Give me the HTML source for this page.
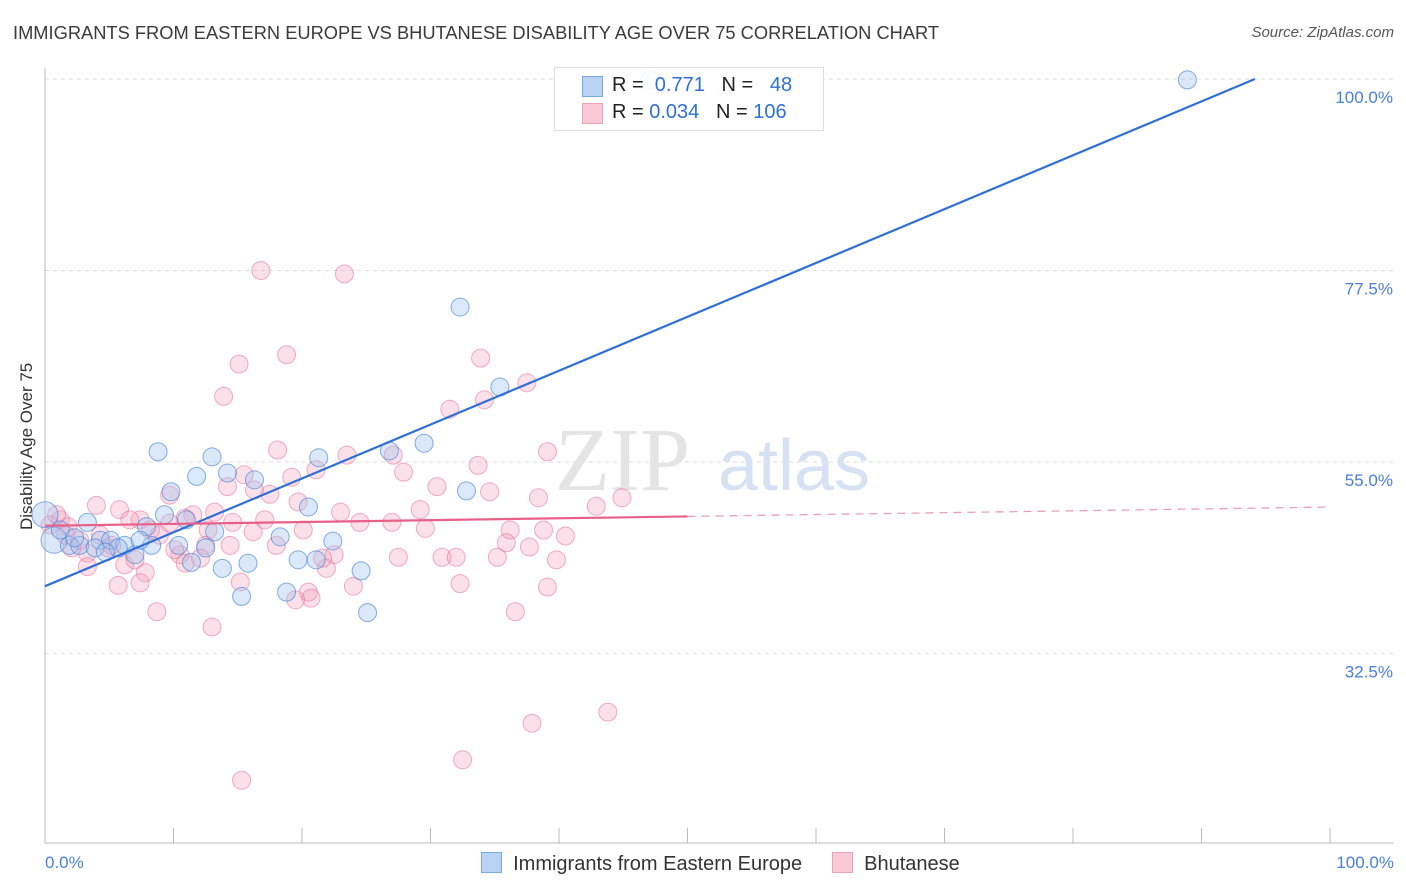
<!DOCTYPE html>
<html><head><meta charset="utf-8">
<style>
body{margin:0;background:#fff;font-family:"Liberation Sans",sans-serif;}
#wrap{position:relative;width:1406px;height:892px;overflow:hidden;}
.t{position:absolute;white-space:nowrap;}
</style></head>
<body>
<div id="wrap">
<div class="t" style="left:13px;top:22px;font-size:18.3px;color:#3a3a3a;">IMMIGRANTS FROM EASTERN EUROPE VS BHUTANESE DISABILITY AGE OVER 75 CORRELATION CHART</div>
<div class="t" style="right:12px;top:24px;font-size:15px;color:#555;font-style:italic;">Source: ZipAtlas.com</div>
<svg id="svg" width="1406" height="892" style="position:absolute;left:0;top:0"></svg>
</div>
<script>
const blueX=[88.9,47.1,32.3,35.4,29.5,8.8,13.0,21.3,26.8,14.2,16.3,11.8,9.8,32.8,20.5,9.3,11.0,3.3,7.9,13.2,0.7,1.9,2.7,4.3,5.1,6.2,7.0,8.3,10.4,12.5,11.4,15.8,18.3,22.4,19.7,21.1,13.8,24.6,15.3,18.8,25.1,0,1.2,5.7,7.4,3.9,2.3,4.7];
const blueY=[99.9,99.9,73.2,63.8,57.2,56.2,55.6,55.5,56.3,53.7,52.9,53.3,51.5,51.6,49.7,48.8,48.2,47.9,47.4,46.8,45.8,45.2,45.2,45.8,45.8,45.2,44.1,45.2,45.2,44.9,43.2,43.1,46.2,45.7,43.5,43.5,42.5,42.2,39.2,39.7,37.3,48.8,47.0,44.9,45.8,44.9,46.1,44.4];
const pinkX=[16.8,23.3,18.8,15.1,33.9,13.9,37.5,34.2,31.5,18.1,23.5,27.1,39.1,33.7,27.9,15.5,21.1,19.2,14.2,30.5,34.6,17.5,16.3,44.9,38.4,42.9,4.0,5.8,9.7,19.7,23.0,29.2,13.2,11.5,10.9,7.4,6.6,24.5,27.0,14.6,16.2,20.1,29.6,36.2,38.8,40.5,12.7,1.2,0.4,1.8,4.3,4.9,3.3,8.9,10.5,12.5,18.0,22.5,27.5,30.9,32.0,35.2,35.9,37.7,39.8,3.3,6.2,7.8,5.7,7.4,15.2,32.3,24.0,39.1,20.5,20.7,19.5,8.7,13.0,36.6,21.9,21.6,10.1,10.9,12.1,2.1,2.7,0.9,1.6,37.9,43.8,32.5,15.3,8.2,14.4,17.1,5.2,9.7,7.0];
const pinkY=[77.5,77.1,67.6,66.5,67.2,62.7,64.3,62.3,61.2,56.4,55.8,55.8,56.2,54.6,53.8,53.5,54.1,53.2,52.1,52.1,51.5,51.2,51.7,50.8,50.8,49.8,49.9,49.4,51.1,50.3,49.1,49.4,49.1,48.8,48.4,48.2,48.2,47.9,47.9,47.9,46.8,47.0,47.2,47.0,47.0,46.3,47.0,48.2,47.6,47.4,46.4,44.9,44.3,46.4,44.1,45.2,45.2,44.1,43.8,43.8,43.8,43.8,45.5,45.0,43.5,42.7,42.9,42.0,40.5,40.8,40.9,40.7,40.4,40.3,39.7,39.0,38.8,37.4,35.6,37.4,42.5,43.7,44.7,43.1,43.7,44.9,45.8,48.8,46.4,24.3,25.6,20.0,17.6,47.0,45.2,48.2,45.2,47.8,43.5];
const blueFit=[40.4,0.633];   // intercept, slope
const pinkFit=[47.5,0.022];
const yTicks=[100,77.5,55,32.5];
const yTickLabels=["100.0%","77.5%","55.0%","32.5%"];

const NS="http://www.w3.org/2000/svg";
const svg=document.getElementById('svg');
const X=v=>45+v*12.85;
const Y=v=>79+(100-v)*8.51;
function el(tag,attrs,parent){const e=document.createElementNS(NS,tag);for(const k in attrs)e.setAttribute(k,attrs[k]);(parent||svg).appendChild(e);return e;}

yTicks.forEach((t,i)=>{
  const g=el('line',{x1:45,x2:1393,y1:Y(t),y2:Y(t),stroke:'#ddd','stroke-dasharray':'4,4'});
  
  
  const tx=el('text',{x:1393,y:Y(t)+24,'text-anchor':'end','font-size':17,fill:'#4a7fd6','font-family':'Liberation Sans'});
  tx.textContent=yTickLabels[i];
  
  
});
let a=el('line',{x1:45,x2:45,y1:68,y2:843,stroke:'#bbb'});

a=el('line',{x1:45,x2:1393,y1:843,y2:843,stroke:'#bbb'});

for(let i=0;i<=10;i++){
  const tk=el('line',{x1:X(i*10),x2:X(i*10),y1:828,y2:843,stroke:'#bbb'});
  
  
}
let w=el('text',{x:555,y:490,'font-size':90,fill:'#e4e4e4','font-family':'Liberation Serif'});w.textContent='ZIP';

w=el('text',{x:718,y:490,'font-size':72,fill:'#d6e2f3','font-family':'Liberation Sans'});w.textContent='atlas';


pinkX.forEach((x,i)=>{
  const c=el('circle',{cx:X(x),cy:Y(pinkY[i]),r:9,fill:'rgba(244,160,186,0.32)',stroke:'rgba(232,110,150,0.55)','stroke-width':1});
  
  
});
blueX.forEach((x,i)=>{
  const big=(x<1);
  const c=el('circle',{cx:X(x),cy:Y(blueY[i]),r:big?13:9,fill:'rgba(160,195,240,0.38)',stroke:'rgba(70,130,215,0.65)','stroke-width':1});
  
  
});
const bx2=(100-blueFit[0])/blueFit[1];
let l=el('line',{x1:X(0),y1:Y(blueFit[0]),x2:X(bx2),y2:Y(100),stroke:'#2f6fd6','stroke-width':2.2});

l=el('line',{x1:X(0),y1:Y(pinkFit[0]),x2:X(50),y2:Y(pinkFit[0]+pinkFit[1]*50),stroke:'#e8608a','stroke-width':2.2});

l=el('line',{x1:X(50),y1:Y(pinkFit[0]+pinkFit[1]*50),x2:X(100),y2:Y(pinkFit[0]+pinkFit[1]*100),stroke:'#e8a0b8','stroke-width':1.3,'stroke-dasharray':'8,6'});

</script>
<div class="t" style="left:-48px;top:445px;transform:rotate(-90deg);font-size:17px;color:#333;width:150px;text-align:center;">Disability Age Over 75</div>
<div class="t" style="left:45px;top:853px;font-size:17px;color:#4a7fd6;">0.0%</div>
<div class="t" style="right:12px;top:853px;font-size:17px;color:#4a7fd6;">100.0%</div>
<div style="position:absolute;left:554px;top:67px;width:268px;height:62px;border:1px solid #ddd;background:rgba(255,255,255,0.9);font-size:20px;color:#222;">
 <div style="position:absolute;left:27px;top:8px;width:19px;height:19px;background:#b9d3f5;border:1px solid #7aa7e3;"></div>
 <div class="t" style="left:57px;top:6px;">R = <span style="color:#2f6fd6">&nbsp;0.771</span>&nbsp;&nbsp;&nbsp;N = <span style="color:#2f6fd6">&nbsp;&nbsp;48</span></div>
 <div style="position:absolute;left:27px;top:35px;width:19px;height:19px;background:#fbc8d7;border:1px solid #eea0b8;"></div>
 <div class="t" style="left:57px;top:33px;">R = <span style="color:#2f6fd6">0.034</span>&nbsp;&nbsp;&nbsp;N = <span style="color:#2f6fd6">106</span></div>
</div>
<div style="position:absolute;left:481px;top:852px;font-size:20px;color:#333;">
 <div style="position:absolute;left:0;top:0;white-space:nowrap;"><span style="display:inline-block;width:19px;height:19px;background:#b9d3f5;border:1px solid #7aa7e3;vertical-align:-3px;"></span>&nbsp;&nbsp;Immigrants from Eastern Europe</div>
 <div style="position:absolute;left:351px;top:0;white-space:nowrap;"><span style="display:inline-block;width:19px;height:19px;background:#fbc8d7;border:1px solid #eea0b8;vertical-align:-3px;"></span>&nbsp;&nbsp;Bhutanese</div>
</div>
</body></html>
